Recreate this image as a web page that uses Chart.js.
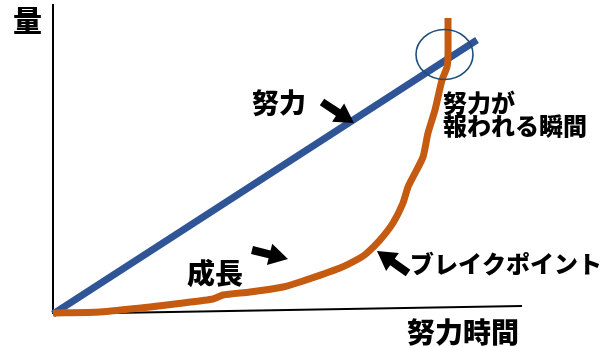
<!DOCTYPE html>
<html><head><meta charset="utf-8">
<script src="https://cdn.jsdelivr.net/npm/chart.js@4.4.1/dist/chart.umd.min.js"></script>
<style>html,body{margin:0;padding:0;background:#fff}#wrap{width:616px;height:347px;position:relative}</style>
</head><body><div id="wrap"><canvas id="c"></canvas></div>
<script>
// Values (units: effort-time on x, amount on y)
const effortX = [0, 424];
const effortY = [0, 274];
const growthX = [0, 47, 97, 130, 160, 170, 197, 230, 247, 287, 307, 314, 327, 340, 350, 355, 360, 370, 375, 382, 389, 394, 395, 395];
const growthY = [1, 2, 7, 11, 15, 19, 22, 27, 32, 46, 56, 61, 74, 91, 111, 127, 137, 157, 181, 204, 234, 247, 259, 296];
const xAxisX = [0, 469];
const xAxisY = [0, 8];
const yAxisX = [0, 0];
const yAxisY = [0, 310];
// annotation positions in data units
const labelTexts = ['量', '努力', '努力が', '報われる瞬間', '成長', 'ブレイクポイント', '努力時間'];
const labelX = [-25.5, 226, 390, 390, 162, 453, 410];
const labelY = [293, 211, 211, 188, 41, 50, -18];
const labelSize = [29, 27, 24, 24, 28, 24, 28];
const labelAlign = ['center', 'center', 'left', 'left', 'center', 'center', 'center'];
const arrowTailX = [269, 199, 355];
const arrowTailY = [212, 64, 41];
const arrowTipX = [301, 235, 324];
const arrowTipY = [191, 55, 63];
const circleCenter = [391.5, 259.5];
const circleRadius = [28.5, 25];

const pts = (xs, ys) => xs.map((x, i) => ({x, y: ys[i]}));
const FONT = '"Noto Sans CJK JP", "Noto Sans CJK SC", sans-serif';

const annot = {
  id: 'annot',
  afterDatasetsDraw(chart) {
    const ctx = chart.ctx, sx = chart.scales.x, sy = chart.scales.y;
    ctx.save();
    // circle
    const cx = sx.getPixelForValue(circleCenter[0]), cy = sy.getPixelForValue(circleCenter[1]);
    const rx = sx.getPixelForValue(circleCenter[0] + circleRadius[0]) - cx;
    const ry = cy - sy.getPixelForValue(circleCenter[1] + circleRadius[1]);
    ctx.beginPath(); ctx.ellipse(cx, cy, rx, ry, 0, 0, Math.PI * 2);
    ctx.strokeStyle = '#1f4e79'; ctx.lineWidth = 1.6; ctx.stroke();
    // arrows
    ctx.fillStyle = '#000';
    for (let i = 0; i < arrowTailX.length; i++) {
      const x0 = sx.getPixelForValue(arrowTailX[i]), y0 = sy.getPixelForValue(arrowTailY[i]);
      const x1 = sx.getPixelForValue(arrowTipX[i]), y1 = sy.getPixelForValue(arrowTipY[i]);
      const dx = x1 - x0, dy = y1 - y0, L = Math.hypot(dx, dy);
      const ux = dx / L, uy = dy / L, nx = -uy, ny = ux;
      const hl = 19, hw = 11, sw = 4;
      const bx = x1 - ux * hl, by = y1 - uy * hl;
      ctx.beginPath();
      ctx.moveTo(x0 + nx * sw, y0 + ny * sw);
      ctx.lineTo(bx + nx * sw, by + ny * sw);
      ctx.lineTo(bx + nx * hw, by + ny * hw);
      ctx.lineTo(x1, y1);
      ctx.lineTo(bx - nx * hw, by - ny * hw);
      ctx.lineTo(bx - nx * sw, by - ny * sw);
      ctx.lineTo(x0 - nx * sw, y0 - ny * sw);
      ctx.closePath(); ctx.fill();
    }
    // labels
    ctx.textBaseline = 'middle';
    for (let i = 0; i < labelTexts.length; i++) {
      ctx.font = '900 ' + labelSize[i] + 'px ' + FONT;
      ctx.textAlign = labelAlign[i];
      ctx.fillText(labelTexts[i], sx.getPixelForValue(labelX[i]), sy.getPixelForValue(labelY[i]));
    }
    ctx.restore();
  }
};

new Chart(document.getElementById('c'), {
  type: 'line',
  data: {
    datasets: [
      {label: '成長', data: pts(growthX, growthY), borderColor: '#c55a11', borderWidth: 7, tension: 0.2, pointRadius: 0, borderCapStyle: 'butt', borderJoinStyle: 'round', fill: false},
      {label: '努力', data: pts(effortX, effortY), borderColor: '#2f5597', borderWidth: 7, tension: 0, pointRadius: 0, borderCapStyle: 'butt', fill: false},
      {label: 'x', data: pts(xAxisX, xAxisY), borderColor: '#000', borderWidth: 2, tension: 0, pointRadius: 0, fill: false},
      {label: 'y', data: pts(yAxisX, yAxisY), borderColor: '#000', borderWidth: 2, tension: 0, pointRadius: 0, fill: false}
    ]
  },
  options: {
    responsive: true, maintainAspectRatio: false, animation: false,
    layout: {padding: 0},
    plugins: {legend: {display: false}, tooltip: {enabled: false}},
    scales: {
      x: {type: 'linear', min: -53, max: 563, display: false},
      y: {type: 'linear', min: -33, max: 314, display: false}
    }
  },
  plugins: [annot]
});
</script></body></html>
